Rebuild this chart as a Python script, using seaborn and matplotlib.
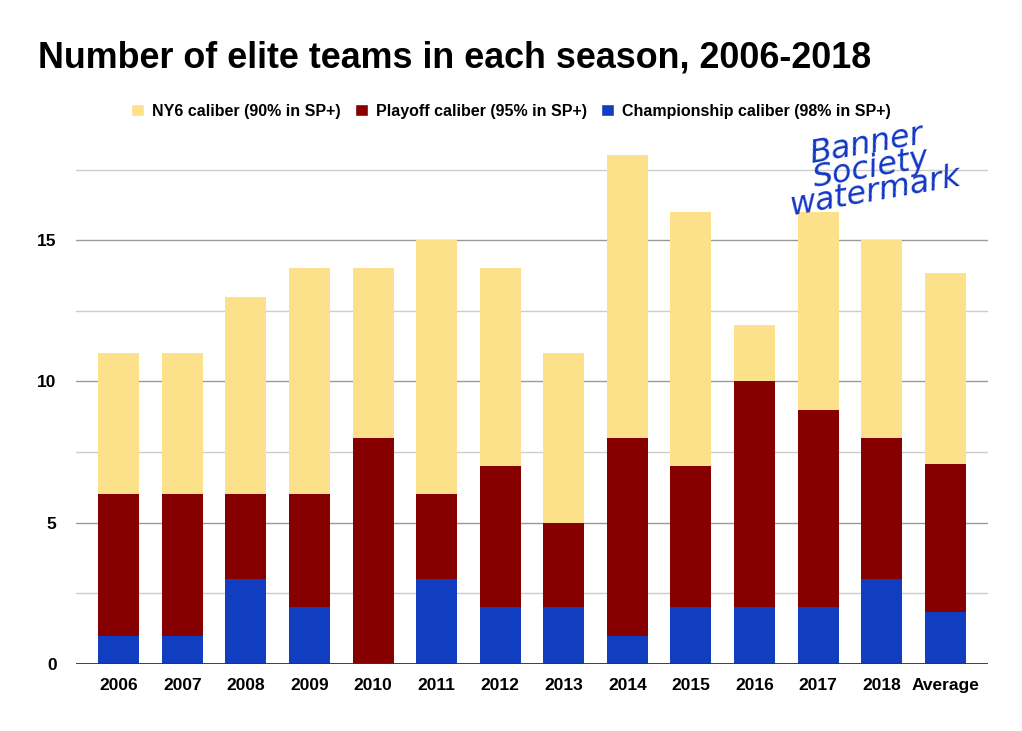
import numpy as np
import pandas as pd
import matplotlib
matplotlib.use("Agg")
import matplotlib.pyplot as plt
import seaborn as sns
from matplotlib.patches import Patch

seasons = ["2006", "2007", "2008", "2009", "2010", "2011", "2012",
           "2013", "2014", "2015", "2016", "2017", "2018", "Average"]
championship = [1, 1, 3, 2, 0, 3, 2, 2, 1, 2, 2, 2, 3, 1.85]
playoff_top = [6, 6, 6, 6, 8, 6, 7, 5, 8, 7, 10, 9, 8, 7.08]
ny6_top = [11, 11, 13, 14, 14, 15, 14, 11, 18, 16, 12, 16, 15, 13.85]

labels = ["NY6 caliber (90% in SP+)", "Playoff caliber (95% in SP+)",
          "Championship caliber (98% in SP+)"]
colors = ["#fde08a", "#860000", "#113ec1"]

df = pd.DataFrame({"season": seasons, "champ": championship,
                   "playoff": playoff_top, "ny6": ny6_top})

sns.set_style("white")
plt.rcParams["font.family"] = ["Liberation Sans", "DejaVu Sans"]
plt.rcParams["text.color"] = "black"
plt.rcParams["xtick.color"] = "black"
plt.rcParams["ytick.color"] = "black"

fig = plt.figure(figsize=(10.22, 7.31), dpi=100)
ax = fig.add_axes([0.0744, 0.0917, 0.8923, 0.6956])

for col, c in zip(["ny6", "playoff", "champ"], colors):
    sns.barplot(data=df, x="season", y=col, order=seasons, color=c,
                width=0.645, saturation=1, linewidth=0, edgecolor=c,
                ax=ax, zorder=3)

ax.set_xlim(-0.67, 13.67)
ax.set_ylim(0, 18)
ax.set_yticks([0, 5, 10, 15])
ax.set_yticks([2.5, 7.5, 12.5, 17.5], minor=True)
ax.grid(axis="y", which="major", color="#9a9a9a", lw=1, zorder=0)
ax.grid(axis="y", which="minor", color="#cccccc", lw=1, zorder=0)
ax.axhline(0, color="#333333", lw=1.3, zorder=4)
for s in ax.spines.values():
    s.set_visible(False)
ax.set_xlabel("")
ax.set_ylabel("")
ax.tick_params(axis="both", which="both", length=0)
ax.tick_params(axis="y", pad=14)
ax.tick_params(axis="x", pad=10)
for t in ax.get_xticklabels() + ax.get_yticklabels():
    t.set_fontweight("bold")
    t.set_fontsize(12.5)
    t.set_color("black")

fig.text(0.037, 0.92, "Number of elite teams in each season, 2006-2018",
         fontsize=25.8, fontweight="bold", ha="left", va="center")

handles = [Patch(facecolor=c, label=l) for c, l in zip(colors, labels)]
fig.legend(handles=handles, loc="center", bbox_to_anchor=(0.5, 0.848),
           ncol=3, frameon=False, handlelength=0.8, handleheight=0.8,
           handletextpad=0.5, columnspacing=0.9,
           prop={"size": 11.5, "weight": "semibold"})

# hand-drawn watermark in the reference, approximated as text
fig.text(0.852, 0.77, "Banner\nSociety\nwatermark", color="#1238c4",
         fontsize=23, rotation=10, ha="center", va="center",
         linespacing=0.72, family="DejaVu Sans", fontstyle="italic")

fig.savefig("out.png", dpi=100)
